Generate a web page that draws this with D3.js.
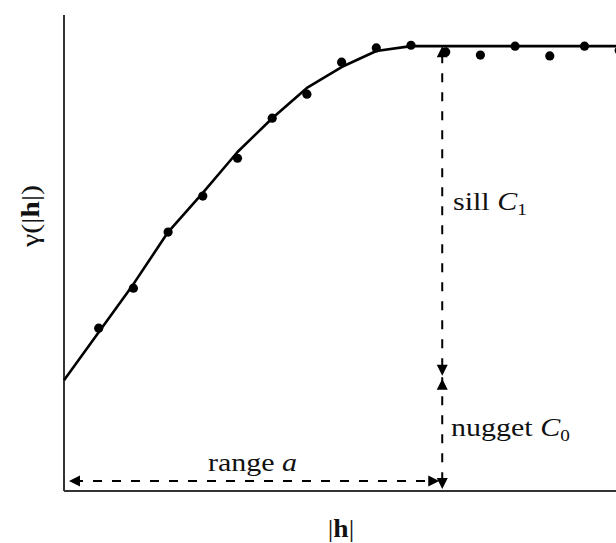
<!DOCTYPE html>
<html>
<head>
<meta charset="utf-8">
<script src="https://cdn.jsdelivr.net/npm/d3@7"></script>
<style>
  html, body { margin: 0; padding: 0; background: #fff; }
  svg { display: block; }
  text { font-family: "Liberation Serif", "Times New Roman", serif; fill: #111; }
</style>
</head>
<body>
<div id="chart"></div>
<script>
// ---- data ----
const lags      = [1, 2, 3, 4, 5, 6, 7, 8, 9, 10, 11, 12, 13, 14, 15, 16];
const gammaObs  = [0.366, 0.456, 0.582, 0.663, 0.748, 0.838, 0.892, 0.964, 0.996, 1.002, 0.987, 0.980, 1.0, 0.978, 1.0, 0.99];
// fitted model drawn as a polyline
const modelH    = [0, 2, 3, 4, 5, 6, 7, 8, 9, 10, 16];
const modelG    = [0.249, 0.465, 0.582, 0.670, 0.762, 0.838, 0.906, 0.953, 0.989, 1.0, 1.0];
const nugget = 0.25, sill = 1.0, range = 10.9;

// ---- layout ----
const W = 616, H = 543;
const x = d3.scaleLinear().domain([0, 16]).range([64, 619.2]);
const y = d3.scaleLinear().domain([0, 1.07]).range([491, 15]);

const svg = d3.select("#chart").append("svg").attr("width", W).attr("height", H);

// axes (plain lines, no ticks)
svg.append("line").attr("x1", x(0)).attr("x2", x(0)).attr("y1", y(1.07)).attr("y2", y(0))
  .attr("stroke", "#333").attr("stroke-width", 2);
svg.append("line").attr("x1", x(0)).attr("x2", W + 5).attr("y1", y(0)).attr("y2", y(0))
  .attr("stroke", "#333").attr("stroke-width", 2);

// model curve
const line = d3.line().x((d, i) => x(modelH[i])).y(d => y(d));
svg.append("path").datum(modelG).attr("d", line)
  .attr("fill", "none").attr("stroke", "#000").attr("stroke-width", 2.6).attr("stroke-linejoin", "round");

// observed points
svg.append("g").selectAll("circle").data(lags).join("circle")
  .attr("cx", d => x(d)).attr("cy", (d, i) => y(gammaObs[i])).attr("r", 4.6).attr("fill", "#000");

// ---- annotations ----
const dash = "9,10";
const xa = x(range);
const rangeY = y(0) - 10;

function arrowHead(tx, ty, angle) {
  // tip at (tx,ty); angle 0 = pointing up
  svg.append("path").attr("d", "M0,0 L5.5,11 L-5.5,11 Z")
    .attr("transform", `translate(${tx},${ty}) rotate(${angle})`).attr("fill", "#000");
}

// vertical sill / nugget guide
svg.append("line").attr("x1", xa).attr("x2", xa).attr("y1", y(sill) + 8).attr("y2", y(0) - 6)
  .attr("stroke", "#000").attr("stroke-width", 2).attr("stroke-dasharray", dash);
arrowHead(xa, y(sill), 0);
arrowHead(xa, y(nugget) - 4, 180);
arrowHead(xa, y(nugget) - 1, 0);
arrowHead(xa, y(0) - 2, 180);

// horizontal range guide
svg.append("line").attr("x1", x(0) + 10).attr("x2", xa - 8).attr("y1", rangeY).attr("y2", rangeY)
  .attr("stroke", "#000").attr("stroke-width", 2).attr("stroke-dasharray", dash);
arrowHead(x(0) + 5, rangeY, -90);
arrowHead(xa - 3, rangeY, 90);

// ---- labels ----
const fs = 25, sx = 1.2;
function label(px, py, parts) {
  const t = svg.append("text").attr("transform", `translate(${px},${py}) scale(${sx},1)`)
    .attr("font-size", fs);
  parts.forEach(p => {
    const s = t.append("tspan").text(p.t);
    if (p.i) s.attr("font-style", "italic");
    if (p.sub) s.attr("font-size", 16).attr("dy", 5);
  });
  return t;
}
label(453, 210, [{t: "sill "}, {t: "C", i: true}, {t: "1", sub: true}]);
label(451, 436, [{t: "nugget "}, {t: "C", i: true}, {t: "0", sub: true}]);
label(208, 471, [{t: "range "}, {t: "a", i: true}]);

// axis titles
const xt = svg.append("text").attr("transform", `translate(341,537) scale(1.1,1)`)
  .attr("font-size", 25).attr("text-anchor", "middle");
xt.append("tspan").text("|");
xt.append("tspan").text("h").attr("font-weight", "bold");
xt.append("tspan").text("|");

const yt = svg.append("text").attr("transform", `translate(39,216) rotate(-90) scale(1.2,1)`)
  .attr("font-size", 25).attr("text-anchor", "middle");
yt.append("tspan").text("γ(|");
yt.append("tspan").text("h").attr("font-weight", "bold");
yt.append("tspan").text("|)");
</script>
</body>
</html>
